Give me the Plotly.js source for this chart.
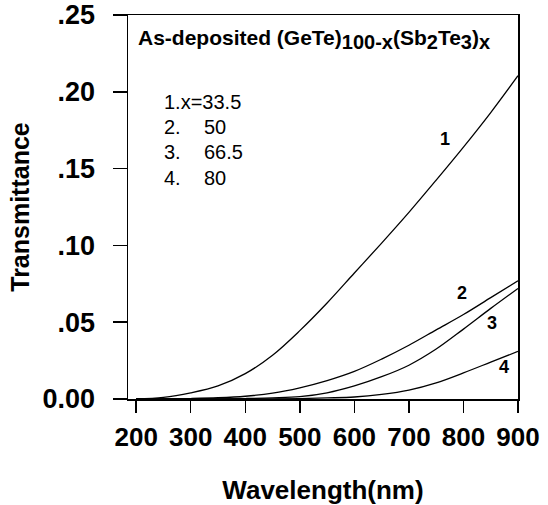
<!DOCTYPE html>
<html>
<head>
<meta charset="utf-8">
<script src="https://cdn.plot.ly/plotly-3.0.1.min.js"></script>
<style>html,body{margin:0;padding:0;background:#fff;}#chart{width:548px;height:505px;}</style>
</head>
<body>
<div id="chart"></div>
<script>
// Data
const wavelength = [200, 250, 300, 350, 400, 450, 500, 550, 600, 650, 700, 750, 800, 850, 900];
const T_x33_5 = [0, 0.001, 0.004, 0.0085, 0.0165, 0.0285, 0.0445, 0.0625, 0.082, 0.1015, 0.1215, 0.1425, 0.164, 0.1865, 0.2105];
const T_x50   = [0, 0, 0.0003, 0.0008, 0.0018, 0.0038, 0.0073, 0.012, 0.018, 0.026, 0.035, 0.045, 0.055, 0.066, 0.077];
const T_x66_5 = [0, 0, 0, 0.0001, 0.0003, 0.0007, 0.0015, 0.004, 0.0085, 0.0145, 0.022, 0.0325, 0.0455, 0.059, 0.072];
const T_x80   = [0, 0, 0, 0, 0, 0.0001, 0.0003, 0.0007, 0.0013, 0.003, 0.0058, 0.0105, 0.017, 0.024, 0.031];
const seriesValues = [T_x33_5, T_x50, T_x66_5, T_x80];
const curveLabels = ["1", "2", "3", "4"];
const legendNums = ["1.x=33.5", "2.", "3.", "4."];
const legendVals = ["", "50", "66.5", "80"];
const yTickVals = [0, 0.05, 0.10, 0.15, 0.20, 0.25];
const yTickText = ["0.00", ".05", ".10", ".15", ".20", ".25"];
const xTickVals = [200, 300, 400, 500, 600, 700, 800, 900];

const FONT = "Liberation Sans, Arial, sans-serif";

const traces = seriesValues.map((vals, i) => ({
  x: wavelength, y: vals, type: "scatter", mode: "lines",
  line: {color: "#000", width: 1.3, shape: "spline", smoothing: 1},
  name: curveLabels[i], showlegend: false, hoverinfo: "skip"
}));

// curve-number label positions (data coordinates)
const labelPos = [[766, 0.169], [797, 0.069], [852, 0.0495], [874, 0.0208]];
const annotations = [];
curveLabels.forEach((t, i) => annotations.push({
  x: labelPos[i][0], y: labelPos[i][1], xref: "x", yref: "y", text: t, showarrow: false,
  font: {family: FONT, size: 18, color: "#000", weight: "bold"}
}));
const S = s => "<span style=\"font-size:20px\">" + s + "</span>";
annotations.push({
  xref: "paper", yref: "paper", x: 0.02, y: 0.935, xanchor: "left", yanchor: "middle",
  text: "As-deposited (GeTe)<sub>" + S("100-x") + "</sub>(Sb<sub>" + S("2") + "</sub>Te<sub>" + S("3") + "</sub>)<sub>" + S("x") + "</sub>",
  showarrow: false, font: {family: FONT, size: 21, color: "#000", weight: "bold"}
});
const legendY = [0.773, 0.708, 0.643, 0.576];
legendNums.forEach((t, i) => {
  annotations.push({xref: "paper", yref: "paper", x: 0.087, y: legendY[i], xanchor: "left", yanchor: "middle",
    text: t, showarrow: false, font: {family: FONT, size: 20, color: "#000"}});
  if (legendVals[i]) annotations.push({xref: "paper", yref: "paper", x: 0.19, y: legendY[i], xanchor: "left", yanchor: "middle",
    text: legendVals[i], showarrow: false, font: {family: FONT, size: 20, color: "#000"}});
});

const layout = {
  width: 548, height: 505,
  margin: {l: 128, r: 30, t: 15, b: 106},
  paper_bgcolor: "#fff", plot_bgcolor: "#fff",
  showlegend: false,
  xaxis: {
    range: [185, 900], tickvals: xTickVals, ticks: "outside", ticklen: 12, tickwidth: 1.5, tickcolor: "#000",
    showline: true, linecolor: "#000", linewidth: 1.5, mirror: true, showgrid: false, zeroline: false,
    ticklabelstandoff: 2,
    tickfont: {family: FONT, size: 26, color: "#000", weight: "bold"},
    title: {text: "Wavelength(nm)", standoff: 30, font: {family: FONT, size: 26, color: "#000", weight: "bold"}}
  },
  yaxis: {
    range: [0, 0.25], tickvals: yTickVals, ticktext: yTickText, ticks: "outside", ticklen: 14, tickwidth: 1.5, tickcolor: "#000",
    showline: true, linecolor: "#000", linewidth: 1.5, mirror: true, showgrid: false, zeroline: false,
    ticklabelstandoff: 12,
    tickfont: {family: FONT, size: 27, color: "#000", weight: "bold"},
    title: {text: "Transmittance", standoff: 6, font: {family: FONT, size: 25, color: "#000", weight: "bold"}}
  },
  annotations: annotations
};

Plotly.newPlot("chart", traces, layout, {staticPlot: true, displayModeBar: false});
</script>
</body>
</html>
